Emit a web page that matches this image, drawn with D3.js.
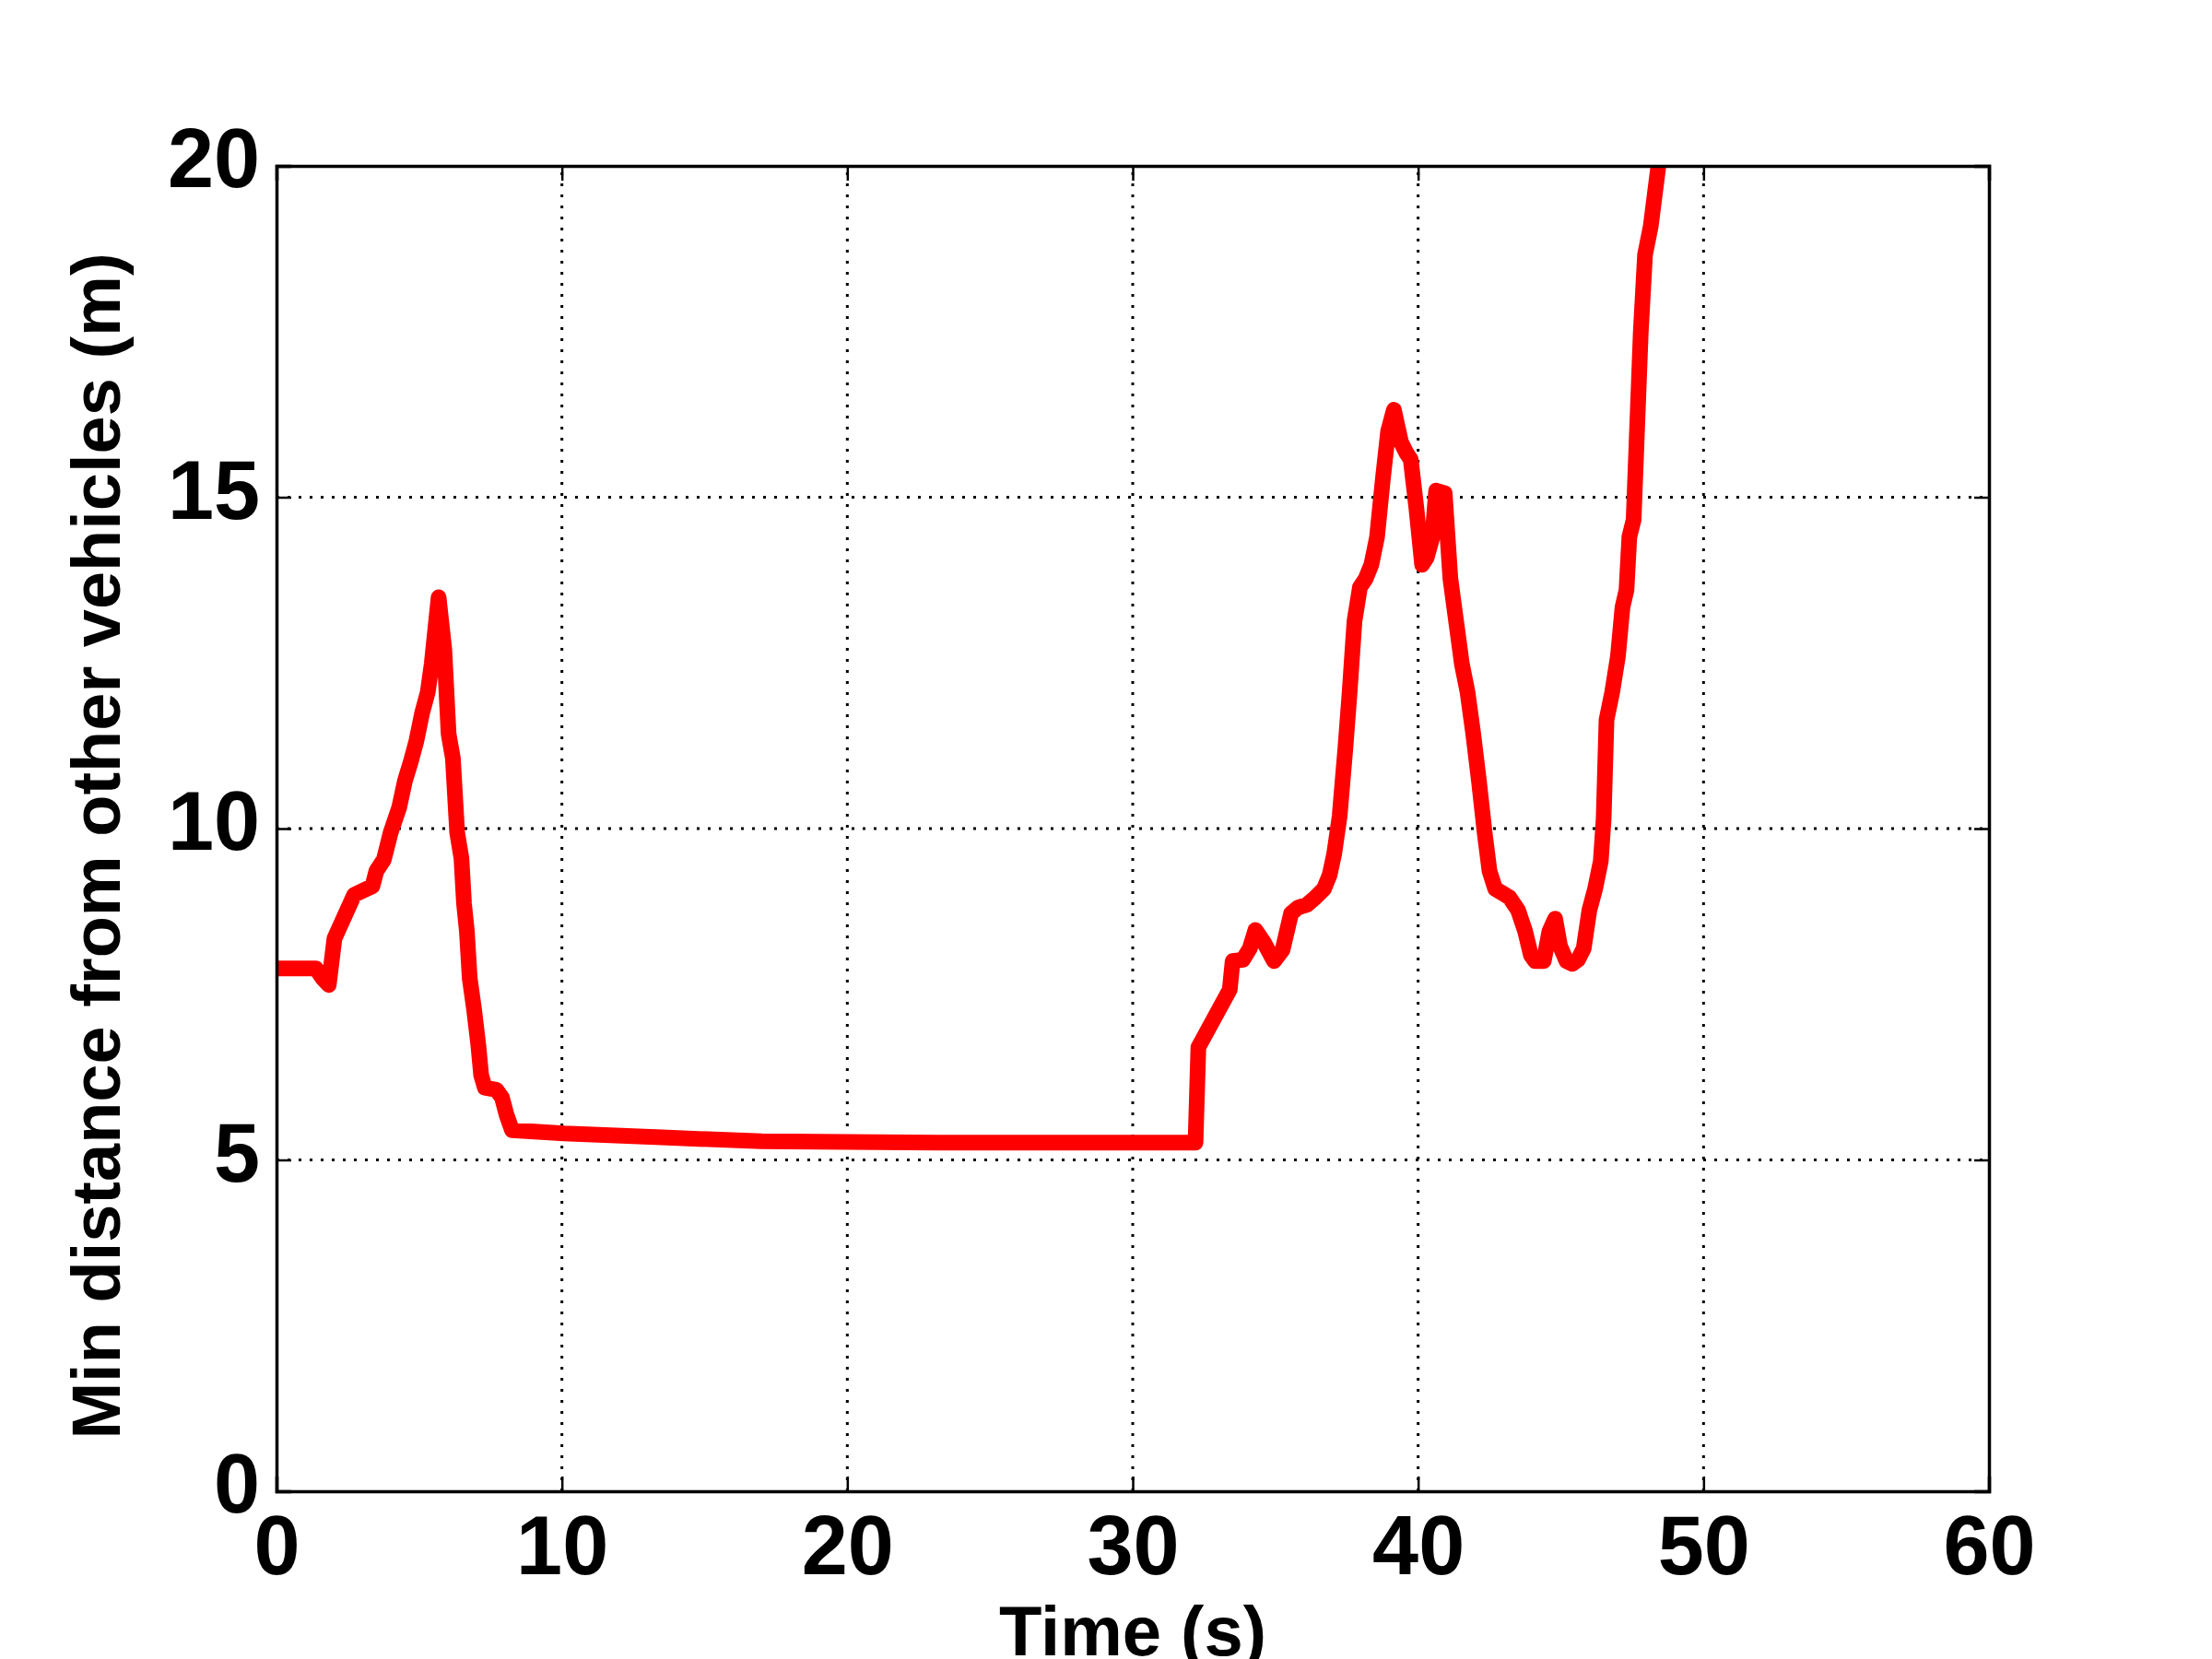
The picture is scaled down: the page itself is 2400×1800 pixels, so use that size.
<!DOCTYPE html>
<html>
<head>
<meta charset="utf-8">
<script src="https://cdn.jsdelivr.net/npm/d3@7"></script>
<style>
  body { margin: 0; background: #fff; }
  svg { display: block; }
  text { font-family: "Liberation Sans", Arial, sans-serif; font-weight: bold; fill: #000; }
</style>
</head>
<body>
<svg id="chart" width="2400" height="1800"></svg>
<script>
// time (s) and min distance (m)
const timeS = [0, 1.38, 1.6, 1.83, 2.03, 2.72, 3.36, 3.5, 3.76, 4.0, 4.3, 4.5, 4.7, 4.9, 5.1, 5.3, 5.44, 5.54, 5.68,
  5.88, 6.03, 6.18, 6.33, 6.48, 6.57, 6.67, 6.77, 6.92, 7.07, 7.17, 7.3, 7.7, 7.9, 8.06, 8.25,
  10.08, 13.5, 17, 20, 24, 32.2,
  32.3, 33.4, 33.5, 33.86, 34.1, 34.3, 34.6, 34.95, 35.25, 35.55, 35.8, 36.1, 36.4, 36.7, 36.9, 37.06,
  37.25, 37.45, 37.6, 37.77, 37.96, 38.16, 38.36, 38.56, 38.76, 38.95, 39.15, 39.4, 39.6, 39.74, 39.94,
  40.14, 40.3, 40.5, 40.63, 40.93, 41.13, 41.33, 41.53, 41.73, 41.93, 42.13, 42.33, 42.5, 42.7, 42.9,
  43.2, 43.5, 43.75, 43.95, 44.1, 44.4, 44.6, 44.8, 44.97, 45.2, 45.4, 45.6, 45.8, 46.0, 46.2, 46.4,
  46.5, 46.6, 46.8, 47.0, 47.16, 47.3, 47.4, 47.55, 47.65, 47.8, 47.95, 48.15, 48.4, 48.55];
const minDist = [7.89, 7.89, 7.75, 7.64, 8.34, 9.0, 9.13, 9.36, 9.53, 9.94, 10.32, 10.72, 11.0, 11.32, 11.74, 12.06, 12.49, 12.91, 13.49,
  12.7, 11.43, 11.06, 9.94, 9.55, 8.87, 8.45, 7.74, 7.28, 6.74, 6.28, 6.09, 6.06, 5.94, 5.68, 5.45,
  5.40, 5.34, 5.28, 5.27, 5.26, 5.26,
  6.70, 7.57, 8.0, 8.02, 8.19, 8.47, 8.28, 8.0, 8.17, 8.72, 8.81, 8.85, 8.96, 9.09, 9.3, 9.62,
  10.19, 11.21, 12.06, 13.13, 13.64, 13.77, 13.98, 14.4, 15.26, 16.0, 16.32, 15.83, 15.66, 15.57, 14.83,
  13.98, 14.09, 14.4, 15.1, 15.06, 13.77, 13.13, 12.49, 12.06, 11.43, 10.72, 9.94, 9.36, 9.09, 9.04,
  8.96, 8.77, 8.45, 8.09, 8.0, 8.0, 8.45, 8.64, 8.23, 8.0, 7.96, 8.02, 8.19, 8.77, 9.09, 9.51,
  10.15, 11.64, 12.06, 12.6, 13.34, 13.6, 14.4, 14.66, 15.79, 17.49, 18.66, 19.09, 19.94, 20.5];

const xTicks = [0, 10, 20, 30, 40, 50, 60];
const yTicks = [0, 5, 10, 15, 20];

const margin = { top: 180, right: 242, bottom: 182, left: 300 };
const width = 2400, height = 1800;
const svg = d3.select('#chart');

const x = d3.scaleLinear().domain([0, 60]).range([margin.left, width - margin.right]);
const y = d3.scaleLinear().domain([0, 20]).range([height - margin.bottom, margin.top]);

// grid
svg.append('g').selectAll('line').data(xTicks.slice(1, -1)).join('line')
  .attr('x1', d => x(d)).attr('x2', d => x(d))
  .attr('y1', y(0)).attr('y2', y(20))
  .attr('stroke', '#000').attr('stroke-width', 3).attr('stroke-dasharray', '3,9');
svg.append('g').selectAll('line').data(yTicks.slice(1, -1)).join('line')
  .attr('x1', x(0)).attr('x2', x(60))
  .attr('y1', d => y(d)).attr('y2', d => y(d))
  .attr('stroke', '#000').attr('stroke-width', 3).attr('stroke-dasharray', '3,9');

// line, clipped to the axes
svg.append('clipPath').attr('id', 'clip').append('rect')
  .attr('x', x(0)).attr('y', y(20)).attr('width', x(60) - x(0)).attr('height', y(0) - y(20));

const line = d3.line().x((d, i) => x(timeS[i])).y(d => y(d));
svg.append('path')
  .datum(minDist)
  .attr('clip-path', 'url(#clip)')
  .attr('d', line)
  .attr('fill', 'none')
  .attr('stroke', '#ff0000')
  .attr('stroke-width', 17)
  .attr('stroke-linejoin', 'round')
  .attr('stroke-linecap', 'butt');

// axes (ticks inward, on all four sides)
const tickLen = 16;
const xAxisB = svg.append('g').attr('transform', `translate(0,${y(0)})`)
  .call(d3.axisBottom(x).tickValues(xTicks).tickSize(-tickLen).tickPadding(26).tickFormat(d3.format('d')));
const xAxisT = svg.append('g').attr('transform', `translate(0,${y(20)})`)
  .call(d3.axisTop(x).tickValues(xTicks).tickSize(-tickLen).tickFormat(''));
const yAxisL = svg.append('g').attr('transform', `translate(${x(0)},0)`)
  .call(d3.axisLeft(y).tickValues(yTicks).tickSize(-tickLen).tickPadding(18).tickFormat(d3.format('d')));
const yAxisR = svg.append('g').attr('transform', `translate(${x(60)},0)`)
  .call(d3.axisRight(y).tickValues(yTicks).tickSize(-tickLen).tickFormat(''));

[xAxisB, xAxisT, yAxisL, yAxisR].forEach(g => {
  g.select('.domain').attr('stroke', '#000').attr('stroke-width', 3.5);
  g.selectAll('.tick line').attr('stroke', '#000').attr('stroke-width', 2.5);
});
xAxisB.selectAll('.tick text').attr('font-size', 90).attr('font-family', null).attr('dy', '0.71em');
yAxisL.selectAll('.tick text').attr('font-size', 90).attr('font-family', null).attr('dy', '0.25em');

// axis titles
svg.append('text')
  .attr('x', (x(0) + x(60)) / 2).attr('y', 1796)
  .attr('text-anchor', 'middle').attr('font-size', 76)
  .text('Time (s)');
svg.append('text')
  .attr('transform', `translate(130,918) rotate(-90)`)
  .attr('text-anchor', 'middle').attr('font-size', 74)
  .text('Min distance from other vehicles (m)');
</script>
</body>
</html>
